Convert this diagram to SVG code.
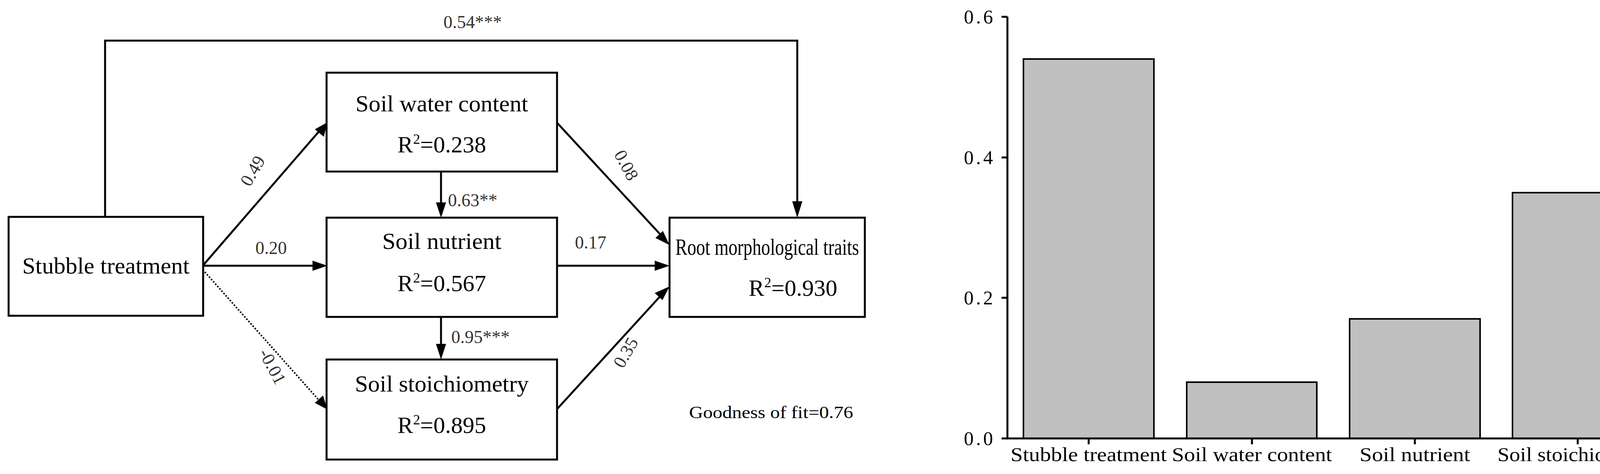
<svg xmlns="http://www.w3.org/2000/svg" width="4269" height="1213" viewBox="0 0 4269 1213">
<style>
.box{fill:#fff;stroke:#000;stroke-width:5}
.t{font-family:"Liberation Serif",serif;font-size:60px;text-anchor:middle}
.l{font-family:"Liberation Serif",serif;font-size:46px;fill:#333;text-anchor:middle}
.c{stroke:#000;stroke-width:5;fill:none}
.bar{fill:#c0c0c0;stroke:#000;stroke-width:4}
.ax{font-family:"Liberation Serif",serif;font-size:50px}
</style>
<g id="connectors">
<polyline class="c" points="269,555 269,104 2041,104 2041,518" />
<path d="M2028,515 L2054,515 L2041,557 z"/>
<line class="c" x1="519" y1="680" x2="822" y2="330"/><path d="M838,313 L829,350 L806,331 z"/>
<line class="c" x1="519" y1="680" x2="800" y2="680"/><path d="M838,680 L800,667 L800,693 z"/>
<line class="c" x1="519" y1="690" x2="820" y2="1028" stroke-dasharray="4,4" style="stroke-width:4"/><path d="M838,1048 L827,1012 L806,1031 z"/>
<line class="c" x1="1129" y1="439" x2="1129" y2="520"/><path d="M1116,518 L1142,518 L1129,557 z"/>
<line class="c" x1="1129" y1="811" x2="1129" y2="882"/><path d="M1116,880 L1142,880 L1129,920 z"/>
<line class="c" x1="1425" y1="313" x2="1695" y2="605"/><path d="M1714,627 L1697,591 L1678,609 z"/>
<line class="c" x1="1425" y1="680" x2="1680" y2="680"/><path d="M1714,680 L1676,667 L1676,693 z"/>
<line class="c" x1="1425" y1="1048" x2="1693" y2="755"/><path d="M1714,733 L1676,750 L1696,768 z"/>
</g>
<g id="labels">
<text class="l" x="1210" y="72">0.54***</text>
<text class="l" transform="translate(660,445) rotate(-60)">0.49</text>
<text class="l" x="694" y="650">0.20</text>
<text class="l" transform="translate(684,945) rotate(62)">-0.01</text>
<text class="l" x="1210" y="528">0.63**</text>
<text class="l" x="1230" y="878">0.95***</text>
<text class="l" transform="translate(1590,430) rotate(62)">0.08</text>
<text class="l" x="1512" y="636">0.17</text>
<text class="l" transform="translate(1615,910) rotate(-60)">0.35</text>
<text x="1764" y="1070" style="font-family:'Liberation Serif',serif;font-size:44px" textLength="420" lengthAdjust="spacingAndGlyphs">Goodness of fit=0.76</text>
</g>
<g id="stubble"><rect class="box" x="22" y="555" width="498" height="253"/><text class="t" x="271" y="700" textLength="428" lengthAdjust="spacingAndGlyphs">Stubble treatment</text></g>
<g id="water"><rect class="box" x="836" y="186" width="590" height="253"/><text class="t" x="1131" y="285" textLength="442" lengthAdjust="spacingAndGlyphs">Soil water content</text><text class="t" x="1131" y="390">R<tspan dy="-22" font-size="36">2</tspan><tspan dy="22">=0.238</tspan></text></g>
<g id="nutrient"><rect class="box" x="836" y="557" width="590" height="254"/><text class="t" x="1131" y="637" textLength="305" lengthAdjust="spacingAndGlyphs">Soil nutrient</text><text class="t" x="1131" y="745">R<tspan dy="-22" font-size="36">2</tspan><tspan dy="22">=0.567</tspan></text></g>
<g id="stoich"><rect class="box" x="836" y="920" width="590" height="256"/><text class="t" x="1131" y="1002" textLength="445" lengthAdjust="spacingAndGlyphs">Soil stoichiometry</text><text class="t" x="1131" y="1108">R<tspan dy="-22" font-size="36">2</tspan><tspan dy="22">=0.895</tspan></text></g>
<g id="root"><rect class="box" x="1714" y="557" width="500" height="254"/><text class="t" x="1964" y="652" textLength="470" lengthAdjust="spacingAndGlyphs">Root morphological traits</text><text class="t" x="2030" y="757">R<tspan dy="-22" font-size="36">2</tspan><tspan dy="22">=0.930</tspan></text></g>
<g id="chart">
<rect class="bar" x="2620" y="151" width="334" height="971"/>
<rect class="bar" x="3038" y="978" width="333" height="144"/>
<rect class="bar" x="3455" y="816" width="334" height="306"/>
<rect class="bar" x="3872" y="493" width="334" height="629"/>
<polyline class="c" points="2579,43 2579,1122 4250,1122"/>
<g stroke="#000" stroke-width="5">
<line x1="2564" y1="43" x2="2579" y2="43"/><line x1="2564" y1="403" x2="2579" y2="403"/><line x1="2564" y1="762" x2="2579" y2="762"/><line x1="2564" y1="1122" x2="2579" y2="1122"/>
<line x1="2787" y1="1122" x2="2787" y2="1137"/><line x1="3205" y1="1122" x2="3205" y2="1137"/><line x1="3622" y1="1122" x2="3622" y2="1137"/><line x1="4039" y1="1122" x2="4039" y2="1137"/>
</g>
<g class="ax" text-anchor="end" font-size="48">
<text x="2548" y="60" letter-spacing="6">0.6</text>
<text x="2548" y="420" letter-spacing="6">0.4</text>
<text x="2548" y="779" letter-spacing="6">0.2</text>
<text x="2548" y="1139" letter-spacing="6">0.0</text>
</g>
<g class="ax" text-anchor="middle">
<text x="2787" y="1180" textLength="400" lengthAdjust="spacingAndGlyphs">Stubble treatment</text>
<text x="3205" y="1180" textLength="410" lengthAdjust="spacingAndGlyphs">Soil water content</text>
<text x="3622" y="1180" textLength="283" lengthAdjust="spacingAndGlyphs">Soil nutrient</text>
<text x="4036" y="1180" textLength="405" lengthAdjust="spacingAndGlyphs">Soil stoichiometry</text>
</g>
</g>
</svg>
